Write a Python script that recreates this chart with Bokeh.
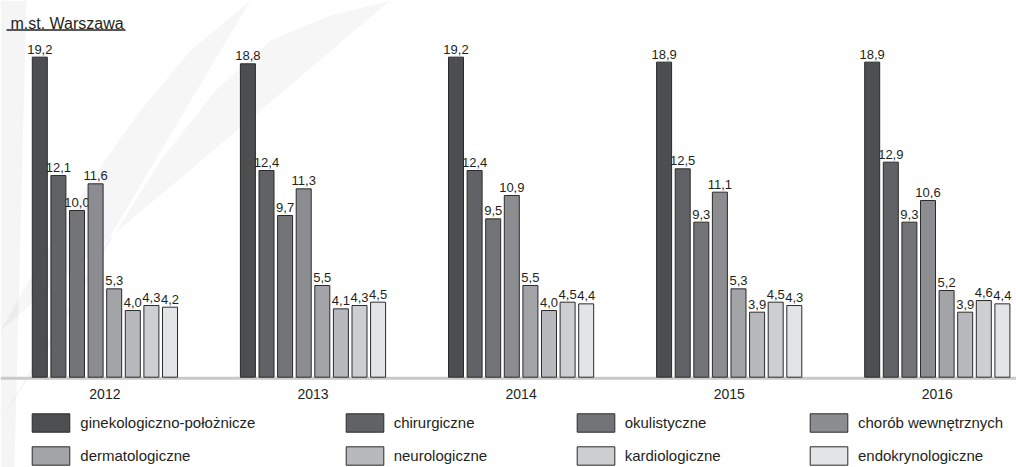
from bokeh.plotting import figure
from bokeh.models import ColumnDataSource, Range1d, Legend, LegendItem, Span
from bokeh.core.properties import value
from bokeh.embed import file_html
from bokeh.resources import INLINE

# ---------------- data ----------------
years = ["2012", "2013", "2014", "2015", "2016"]
series = ["ginekologiczno-położnicze", "chirurgiczne", "okulistyczne", "chorób wewnętrznych",
          "dermatologiczne", "neurologiczne", "kardiologiczne", "endokrynologiczne"]
ginekologiczno_poloznicze = [19.2, 18.8, 19.2, 18.9, 18.9]
chirurgiczne = [12.1, 12.4, 12.4, 12.5, 12.9]
okulistyczne = [10.0, 9.7, 9.5, 9.3, 9.3]
chorob_wewnetrznych = [11.6, 11.3, 10.9, 11.1, 10.6]
dermatologiczne = [5.3, 5.5, 5.5, 5.3, 5.2]
neurologiczne = [4.0, 4.1, 4.0, 3.9, 3.9]
kardiologiczne = [4.3, 4.3, 4.5, 4.5, 4.6]
endokrynologiczne = [4.2, 4.5, 4.4, 4.3, 4.4]
series_values = [ginekologiczno_poloznicze, chirurgiczne, okulistyczne, chorob_wewnetrznych,
                 dermatologiczne, neurologiczne, kardiologiczne, endokrynologiczne]
title_text = "m.st. Warszawa"

# ---------------- style / layout ----------------
colors = ["#4d4e50", "#616266", "#737478", "#8c8d90", "#a3a4a7", "#b8b9bc", "#cdced0", "#e3e4e6"]
FONT = "Liberation Sans"
TXT = "#231f20"
W, H = 1016, 467
GROUP_PX = 208.1      # px between year groups
UNIT_PX = 16.67       # px per value unit
X0_PX = 104.4         # x of first group centre
BASE_PX = 376.7       # y of baseline
PITCH = 18.6 / GROUP_PX
BAR_W = 15.0 / GROUP_PX
TEXT_SHIFT = -4       # svg baseline correction (px)

def cx(px):
    return (px - X0_PX) / GROUP_PX

def cy(py):
    return (BASE_PX - py) / UNIT_PX

p = figure(width=W, height=H,
           x_range=Range1d(cx(0), cx(W)), y_range=Range1d(cy(H), cy(0)),
           x_axis_type=None, y_axis_type=None,
           output_backend="svg", toolbar_location=None, min_border=0)
p.outline_line_color = None
p.background_fill_color = "white"
p.border_fill_color = "white"

# faint decorative background swoosh on the left
band_outer = [(0, 0), (390, 0), (330, 15), (270, 40), (215, 90), (160, 160), (110, 240), (60, 330), (0, 420)]
band_inner = [(0, 330), (40, 260), (90, 180), (140, 110), (190, 50), (250, 0)]
pts = band_outer + band_inner[::-1][:-0 or None]
p.patch(x=[cx(a) for a, b in band_outer[1:] + band_inner[::-1]] ,
        y=[cy(b) for a, b in band_outer[1:] + band_inner[::-1]],
        fill_color="#000000", fill_alpha=0.035, line_color=None, level="underlay")
p.patch(x=[cx(a) for a in [0, 26, 14, 0]], y=[cy(b) for b in [0, 0, H, H]],
        fill_color="#000000", fill_alpha=0.04, line_color=None, level="underlay")

p.add_layout(Span(location=cy(BASE_PX + 1), dimension="width", line_color="#c9c9c9",
                  line_width=3, level="underlay"))

renderers = []
for j, (name, vals) in enumerate(zip(series, series_values)):
    xs = [i + (j - 3.5) * PITCH for i in range(len(years))]
    src = ColumnDataSource(dict(x=xs, top=vals, lab=[f"{v:.1f}".replace(".", ",") for v in vals]))
    r = p.vbar(x="x", top="top", bottom=0, width=BAR_W, source=src,
               fill_color=colors[j], line_color="#2b2b2b", line_width=1)
    renderers.append(r)
    p.text(x="x", y="top", text="lab", source=src, text_align="center", text_baseline="alphabetic",
           y_offset=-4 + TEXT_SHIFT, text_font=value(FONT), text_font_size="13px", text_color=TXT)

p.text(x=list(range(len(years))), y=[0] * len(years), text=years, text_align="center",
       text_baseline="alphabetic", y_offset=21 + TEXT_SHIFT, text_font=value(FONT),
       text_font_size="14px", text_color=TXT)

# title with underline
p.text(x=[cx(10)], y=[cy(27)], text=[title_text], text_align="left", text_baseline="alphabetic",
       y_offset=TEXT_SHIFT, text_font=value(FONT), text_font_size="16px", text_color=TXT)
p.segment(x0=[cx(6)], y0=[cy(29.5)], x1=[cx(125)], y1=[cy(29.5)], line_color="#231f20", line_width=1.6)

# legend: four columns of two rows
col_x = [27.3, 340.7, 571.7, 805.0]
for c in range(4):
    items = [LegendItem(label=series[c], renderers=[renderers[c]]),
             LegendItem(label=series[c + 4], renderers=[renderers[c + 4]])]
    leg = Legend(items=items, location=(col_x[c], 0), orientation="vertical",
                 glyph_width=47, glyph_height=23, label_height=23, spacing=10,
                 padding=0, margin=0, label_standoff=6, border_line_color=None,
                 background_fill_alpha=0, label_text_font=FONT, label_text_font_size="15px",
                 label_text_color=TXT, label_text_baseline="middle")
    p.add_layout(leg, "center")

open("out.html", "w").write(file_html(p, INLINE))
